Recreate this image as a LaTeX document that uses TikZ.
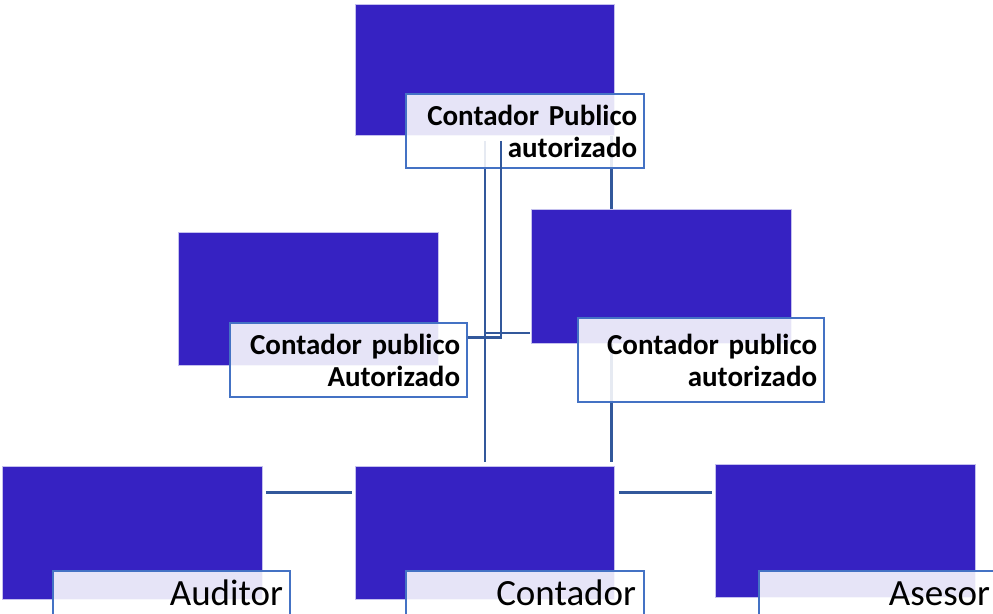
\documentclass[tikz,border=0pt]{standalone}
\usepackage{fontspec}
\setmainfont{Carlito}
\usetikzlibrary{calc}

\definecolor{relleno}{RGB}{54,34,194}
\definecolor{contorno}{RGB}{196,192,238}
\definecolor{borde}{RGB}{68,114,196}
\definecolor{conector}{RGB}{50,88,155}

\tikzset{
  caja/.style={draw=contorno, line width=0.8pt, fill=relleno, anchor=north west,
    minimum width=260pt, minimum height=133pt, inner sep=0pt},
  etiqueta/.style={draw=borde, line width=2.2pt, fill=white, fill opacity=0.88, text opacity=1,
    anchor=north west, minimum width=238pt, minimum height=74pt, text width=224pt,
    inner xsep=7pt, inner ysep=0pt, align=right,
    font=\bfseries\fontsize{29}{32}\selectfont},
  etiquetab/.style={etiqueta, font=\fontsize{37}{40}\selectfont,
    text height=26pt, text depth=32pt},
  linea/.style={draw=conector, line width=2.7pt}
}

\begin{document}
\begin{tikzpicture}[x=1pt, y=-1pt]
  \useasboundingbox (0,0) rectangle (993,613);
  \clip (0,0) rectangle (993,613);

  % cajas de color
  \node[caja, minimum width=259pt, minimum height=131pt] (arr) at (355,4) {};
  \node[caja] (izq) at (178,232) {};
  \node[caja, minimum height=134pt] (der) at (531,209) {};
  \node[caja] (aud) at (2,466) {};
  \node[caja, minimum width=259pt] (cont) at (355,466) {};
  \node[caja] (ase) at (715,464) {};

  % conectores
  \coordinate (c1) at ([xshift=-3pt]arr.south east);
  \coordinate (d1) at ($(der.north west)!0.92!(der.south west)$);
  \coordinate (f1) at ($(aud.north east)!0.2!(aud.south east)$);
  \draw[linea, shorten <=5pt, shorten >=4pt] (arr.south) -- (cont.north);
  \draw[linea] (c1) -- (c1 |- der.north);
  \draw[linea, shorten >=4pt] (c1 |- der.south) -- (c1 |- cont.north);
  \draw[linea, shorten >=1pt] (d1 -| arr.south) -- (d1);
  \draw[linea, shorten <=3pt, shorten >=3pt] (f1) -- (f1 -| cont.west);
  \draw[linea, shorten <=4pt, shorten >=3pt] (f1 -| cont.east) -- (f1 -| ase.west);

  % etiquetas
  \node[etiqueta] (arr-e) at (405,93) {Contador Publico\\autorizado};
  \node[etiqueta, minimum width=237pt, text width=223pt] (izq-e) at (229,322) {Contador publico\\Autorizado};
  \node[etiqueta, minimum width=246pt, minimum height=84pt, text width=232pt] (der-e) at (577,317) {Contador publico\\autorizado};
  \draw[linea] ([xshift=16pt, yshift=-5pt]arr.south) |- ($(izq-e.north east)!0.2!(izq-e.south east)$);
  \node[etiquetab, minimum width=237pt, text width=223pt] (aud-e) at (52,570) {Auditor};
  \node[etiquetab, text width=222pt, inner xsep=8pt] (cont-e) at (405,570) {Contador};
  \node[etiquetab] (ase-e) at (758,570) {Asesor};
\end{tikzpicture}
\end{document}
